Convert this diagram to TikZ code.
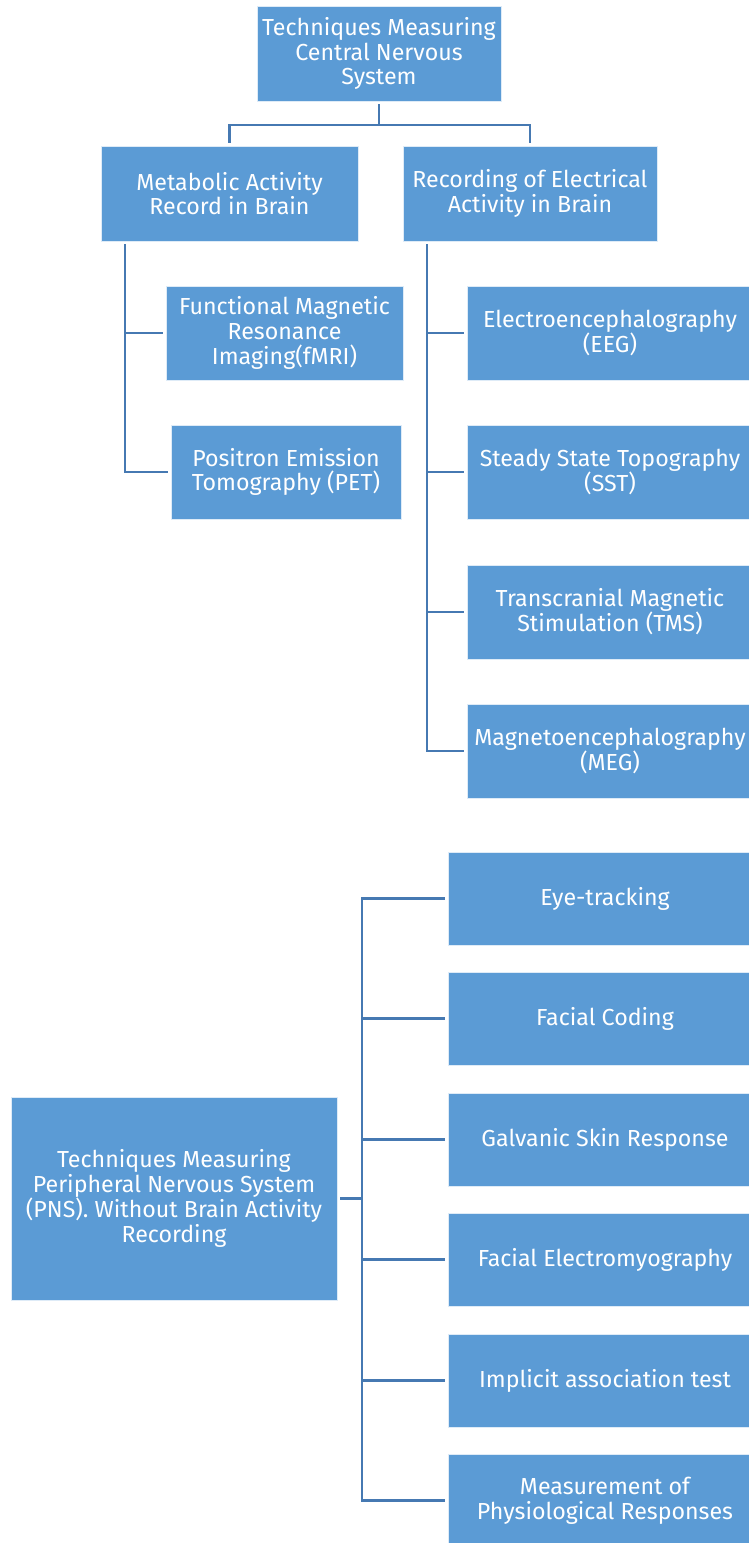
\documentclass[tikz,border=0pt]{standalone}
\usepackage{fontspec}
\setmainfont{Fira Sans}
\definecolor{boxfill}{HTML}{5B9BD5}
\definecolor{linkcol}{RGB}{70,121,178}
\begin{document}
\begin{tikzpicture}[x=1pt,y=-1pt,
  box/.style={rectangle, fill=boxfill, draw=white!80!boxfill, line width=0.8pt,
    text=white, align=center, inner sep=0pt, outer sep=3pt,
    font=\fontsize{23.2}{24.8}\selectfont},
  conn/.style={draw=linkcol, line width=2.6pt}]
\useasboundingbox (0,0) rectangle (749,1543);
\clip (0,0) rectangle (749,1543);

% central nervous system branch
\node[box, minimum width=244, minimum height=95] (top) at (379,53.5)
  {Techniques Measuring\\Central Nervous\\System};
\node[box, minimum width=257, minimum height=95] (met) at (229.5,193.5)
  {Metabolic Activity\\Record in Brain};
\node[box, minimum width=254, minimum height=95] (rec) at (530,193.5)
  {Recording of Electrical\\Activity in Brain};

\node[box, minimum width=237, minimum height=94] (fmri) at (284.5,333)
  {Functional Magnetic\\Resonance\\Imaging(fMRI)};
\node[box, minimum width=230, minimum height=94] (pet) at (286,472)
  {Positron Emission\\Tomography (PET)};

\node[box, minimum width=286, minimum height=94] (eeg) at (610,333)
  {Electroencephalography\\(EEG)};
\node[box, minimum width=286, minimum height=94] (sst) at (610,472)
  {Steady State Topography\\(SST)};
\node[box, minimum width=286, minimum height=94] (tms) at (610,612)
  {Transcranial Magnetic\\Stimulation (TMS)};
\node[box, minimum width=286, minimum height=94] (meg) at (610,751)
  {Magnetoencephalography\\(MEG)};

% peripheral nervous system branch
\node[box, minimum width=326, minimum height=203] (pns) at (174,1198.5)
  {Techniques Measuring\\Peripheral Nervous System\\(PNS). Without Brain Activity\\Recording};
\node[box, minimum width=314, minimum height=93] (eye) at (605,898.5) {Eye-tracking};
\node[box, minimum width=314, minimum height=93] (fcod) at (605,1018.5) {Facial Coding};
\node[box, minimum width=314, minimum height=93] (gsr) at (605,1139.5) {Galvanic Skin Response};
\node[box, minimum width=314, minimum height=93] (femg) at (605,1259.5) {Facial Electromyography};
\node[box, minimum width=314, minimum height=93] (iat) at (605,1380.5) {Implicit association test};
\node[box, minimum width=314, minimum height=93] (phys) at (605,1500.5)
  {Measurement of\\Physiological Responses};

% connectors
\draw[conn] (top.south) -- ++(0,21) coordinate (tj) -| (met.north);
\draw[conn] (tj) -| (rec.north);

\draw[conn] ([xshift=27]met.south west) coordinate (mj) |- (fmri.west);
\draw[conn] (mj) |- (pet.west);

\draw[conn] ([xshift=27]rec.south west) coordinate (rj) |- (eeg.west);
\draw[conn] (rj) |- (sst.west);
\draw[conn] (rj) |- (tms.west);
\draw[conn] (rj) |- (meg.west);

\draw[conn] (pns.east) -- ++(22,0) coordinate (pj);
\foreach \n in {eye,fcod,gsr,femg,iat,phys}
  \draw[conn] (pj) |- (\n.west);
\end{tikzpicture}
\end{document}
